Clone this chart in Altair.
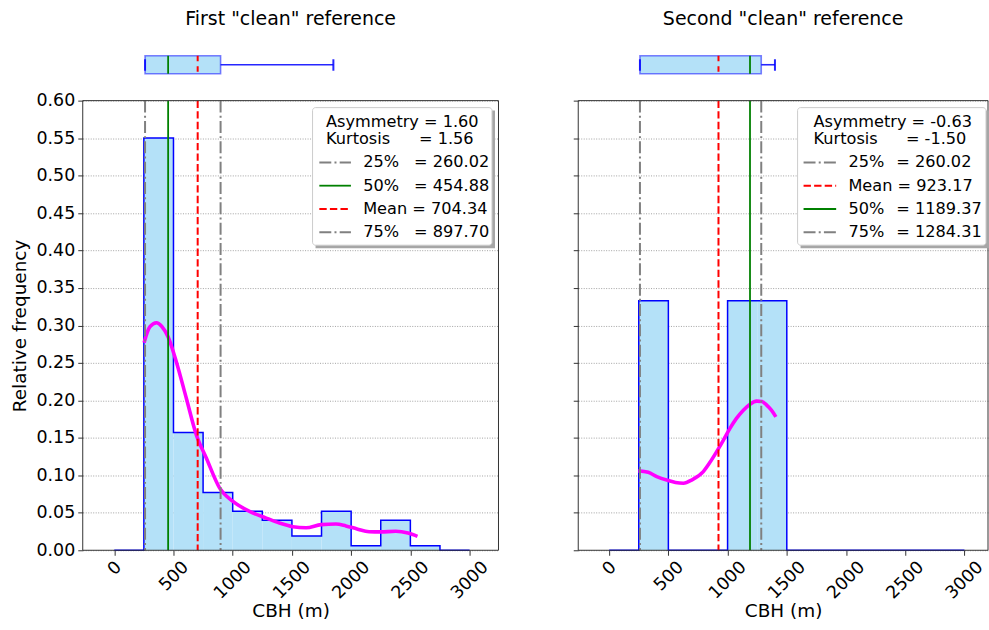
import altair as alt
import pandas as pd

# ---------------- data ----------------
bin_edges = [0, 250, 500, 750, 1000, 1250, 1500, 1750, 2000, 2250, 2500, 2750, 3000]
first_freq = [0.0, 0.550, 0.157, 0.077, 0.052, 0.040, 0.019, 0.052, 0.006, 0.040, 0.006, 0.0]
second_freq = [0.0, 0.333, 0.0, 0.0, 0.333, 0.333, 0.0, 0.0, 0.0, 0.0, 0.0, 0.0]

first_kde_x = [252, 300, 357, 400, 455, 525, 609, 693, 778, 890, 1002, 1142, 1283, 1395,
               1507, 1620, 1746, 1872, 1956, 2050, 2152, 2250, 2377, 2480, 2560]
first_kde_y = [0.277, 0.298, 0.3036, 0.299, 0.2846, 0.251, 0.2026, 0.154, 0.1228, 0.0829,
               0.0652, 0.0519, 0.043, 0.0363, 0.0315, 0.0300, 0.0342, 0.0350, 0.0325, 0.0285,
               0.0248, 0.0245, 0.0253, 0.0230, 0.0186]

second_kde_x = [247, 330, 402, 500, 560, 627, 700, 795, 850, 908, 965, 1020, 1075, 1133,
                1190, 1245, 1290, 1330, 1370, 1408]
second_kde_y = [0.106, 0.104, 0.0984, 0.093, 0.0905, 0.0895, 0.094, 0.105, 0.117, 0.1316,
                0.147, 0.1626, 0.176, 0.187, 0.195, 0.199, 0.1985, 0.1937, 0.187, 0.178]

first_stats = {"q25": 260.02, "q50": 454.88, "mean": 704.34, "q75": 897.70, "lo": 260.02, "hi": 1850.0}
second_stats = {"q25": 260.02, "q50": 1189.37, "mean": 923.17, "q75": 1284.31, "lo": 260.02, "hi": 1400.0}
first_shape = ["1.60", "1.56"]
second_shape = ["-0.63", "-1.50"]
first_order = ["q25", "q50", "mean", "q75"]
second_order = ["q25", "mean", "q50", "q75"]
x_ticks = [0, 500, 1000, 1500, 2000, 2500, 3000]
y_ticks = [0.0, 0.05, 0.10, 0.15, 0.20, 0.25, 0.30, 0.35, 0.40, 0.45, 0.50, 0.55, 0.60]
titles = ['First "clean" reference', 'Second "clean" reference']

# ---------------- style ----------------
FONT = "DejaVu Sans"
FILL = "#b4e1f8"
H = 451
BOX_H = 26
LEG_FS = 16.2
TICK_FS = 17.5
line_style = {
    "q25": dict(color="#808080", strokeDash=[12, 3.2, 2, 3.2], strokeWidth=2),
    "q75": dict(color="#808080", strokeDash=[12, 3.2, 2, 3.2], strokeWidth=2),
    "mean": dict(color="#ff0000", strokeDash=[7.4, 3.2], strokeWidth=2),
    "q50": dict(color="#008000", strokeWidth=1.8),
}
label_of = {"q25": "25%", "q50": "50%", "mean": "Mean", "q75": "75%"}

one = pd.DataFrame({"k": [0]})


def panel(idx, freq, kx, ky, st, shape, order, dom, width, show_labels, leg, gap):
    xscale = alt.Scale(domain=dom, nice=False, zero=False)
    yscale = alt.Scale(domain=[0, 0.6], nice=False, zero=True)
    xaxis = alt.Axis(values=x_ticks, format="d", labelAngle=-45, labelAlign="right",
                     labelBaseline="middle",
                     labelOffset={"condition": [{"test": "datum.value >= 1000", "value": 15.5},
                                                {"test": "datum.value == 0", "value": 4}],
                                  "value": 12},
                     labelPadding=9, tickSize=5, tickColor="#333", grid=False, domain=False,
                     labelFontSize=TICK_FS, titleFontSize=18.5, labelFlush=False, labelOverlap=False,
                     titlePadding=11, minExtent=40, maxExtent=40)
    if show_labels:
        yaxis = alt.Axis(values=y_ticks, format=".2f", grid=True, gridDash=[1, 1.5],
                         gridColor="#8c8c8c", gridWidth=0.8, tickSize=5, tickColor="#333",
                         domain=False, labelFontSize=TICK_FS, titleFontSize=18.5, labelPadding=3,
                         titlePadding=7, minExtent=46, maxExtent=46)
        ytitle = "Relative frequency"
    else:
        yaxis = alt.Axis(values=y_ticks, grid=True, gridDash=[1, 1.5], gridColor="#8c8c8c",
                         gridWidth=0.8, tickSize=5, tickColor="#333", domain=False,
                         labels=False, minExtent=5, maxExtent=5)
        ytitle = None

    def X(f="x"):
        return alt.X(f"{f}:Q", scale=xscale, axis=xaxis, title="CBH (m)")

    def Y(f="y"):
        return alt.Y(f"{f}:Q", scale=yscale, axis=yaxis, title=ytitle)

    bars_df = pd.DataFrame({"x": bin_edges[:-1], "x2": bin_edges[1:], "y": freq})
    bars_df = bars_df[bars_df["y"] > 0]
    bars = alt.Chart(bars_df).mark_rect(color=FILL).encode(
        x=X(), x2="x2:Q", y=Y(), y2=alt.datum(0))

    step_df = pd.DataFrame({"x": bin_edges, "y": list(freq) + [0.0]})
    step = alt.Chart(step_df).mark_line(interpolate="step-after", color="#0000ff",
                                        strokeWidth=1.5).encode(x=X(), y=Y())

    kde_df = pd.DataFrame({"x": kx, "y": ky})
    kde = alt.Chart(kde_df).mark_line(color="#ff00ff", strokeWidth=3.6,
                                      interpolate="monotone").encode(x=X(), y=Y())

    vlines = []
    for key in order:
        vlines.append(alt.Chart(pd.DataFrame({"x": [st[key]]})).mark_rule(**line_style[key]).encode(
            x=X(), y=alt.value(0), y2=alt.value(H)))

    # legend (annotation in pixel space of the plot area)
    L, R, T, B = leg["box"]
    legend = [
        alt.Chart(one).mark_rect(fill="#a6a6a6").encode(
            x=alt.value(L + 3), x2=alt.value(R + 3), y=alt.value(T + 3), y2=alt.value(B + 3)),
        alt.Chart(one).mark_rect(fill="white", stroke="#cccccc", strokeWidth=1, cornerRadius=3).encode(
            x=alt.value(L), x2=alt.value(R), y=alt.value(T), y2=alt.value(B)),
    ]

    def txt(s, x, y):
        return alt.Chart(one).mark_text(text=s, align="left", baseline="middle", font=FONT,
                                        fontSize=LEG_FS, color="black").encode(
            x=alt.value(x), y=alt.value(y))

    legend.append(txt("Asymmetry = " + shape[0], leg["tx0"], leg["r1"]))
    legend.append(txt("Kurtosis", leg["tx0"], leg["r2"]))
    legend.append(txt("= " + shape[1], leg["eq2"], leg["r2"]))
    for i, key in enumerate(order):
        yy = leg["rows"][i]
        legend.append(alt.Chart(one).mark_rule(**line_style[key]).encode(
            x=alt.value(leg["h0"]), x2=alt.value(leg["h1"]), y=alt.value(yy)))
        if key == "mean":
            legend.append(txt("Mean = %.2f" % st[key], leg["tx"], yy))
        else:
            legend.append(txt(label_of[key], leg["tx"], yy))
            legend.append(txt("= %.2f" % st[key], leg["eq"], yy))

    frame = alt.Chart(one).mark_rect(filled=False, stroke="#333333", strokeWidth=1).encode(
        x=alt.value(0), x2=alt.value(width), y=alt.value(0), y2=alt.value(H))

    main = alt.layer(bars, step, kde, *vlines, frame, *legend).properties(
        width=width, height=H, view=alt.ViewBackground(strokeOpacity=0))

    # box plot above
    bx = lambda: alt.X("x:Q", scale=xscale, axis=None)
    box = alt.Chart(pd.DataFrame({"x": [st["q25"]], "x2": [st["q75"]]})).mark_rect(
        fill=FILL, stroke="#0000ff", strokeOpacity=0.5, strokeWidth=1.6).encode(
        x=bx(), x2="x2:Q", y=alt.value(4), y2=alt.value(22))
    whisk = alt.Chart(pd.DataFrame({"x": [st["q75"]], "x2": [st["hi"]]})).mark_rule(
        color="#0000ff", strokeWidth=1.6, opacity=0.85).encode(x=bx(), x2="x2:Q", y=alt.value(13))
    caps = alt.Chart(pd.DataFrame({"x": [st["lo"], st["hi"]]})).mark_rule(
        color="#0000ff", strokeWidth=2, opacity=0.85).encode(x=bx(), y=alt.value(7.5), y2=alt.value(19))
    med = alt.Chart(pd.DataFrame({"x": [st["q50"]]})).mark_rule(
        color="#008000", strokeWidth=1.8).encode(x=bx(), y=alt.value(4), y2=alt.value(22))
    mean = alt.Chart(pd.DataFrame({"x": [st["mean"]]})).mark_rule(
        color="#ff0000", strokeWidth=2, strokeDash=[5.5, 5]).encode(x=bx(), y=alt.value(4), y2=alt.value(22))
    top = alt.layer(box, whisk, caps, med, mean).properties(
        width=width, height=BOX_H, view=alt.ViewBackground(strokeOpacity=0),
        title=alt.TitleParams(titles[idx], fontSize=19, font=FONT, fontWeight="normal",
                              anchor="middle", color="black", offset=23))
    return alt.vconcat(top, main, spacing=gap)


left_leg = {"box": (230.5, 410.5, 7, 145), "tx0": 244, "eq2": 337.3,
            "r1": 21, "r2": 38.7, "rows": [62, 85.3, 108.7, 132],
            "h0": 237.3, "h1": 269, "tx": 281.3, "eq": 332.3}
right_leg = {"box": (220, 409, 7, 145), "tx0": 236, "eq2": 328.7,
             "r1": 21, "r2": 38.7, "rows": [62, 85.3, 108.7, 132],
             "h0": 226, "h1": 258.7, "tx": 271, "eq": 319}

left = panel(0, first_freq, first_kde_x, first_kde_y, first_stats, first_shape, first_order,
             [-266, 3244], 417, True, left_leg, 14)
right = panel(1, second_freq, second_kde_x, second_kde_y, second_stats, second_shape, second_order,
              [-261, 3199], 411, False, right_leg, 22)

chart = alt.hconcat(left, right, spacing=73).configure(
    padding={"left": 11, "top": 9, "right": 0, "bottom": 0}, background="white"
).configure_axis(labelFont=FONT, titleFont=FONT, labelColor="black", titleColor="black",
                 titleFontWeight="normal").configure_title(font=FONT)

chart.save("out.html", embed_options={"renderer": "svg", "actions": False})
